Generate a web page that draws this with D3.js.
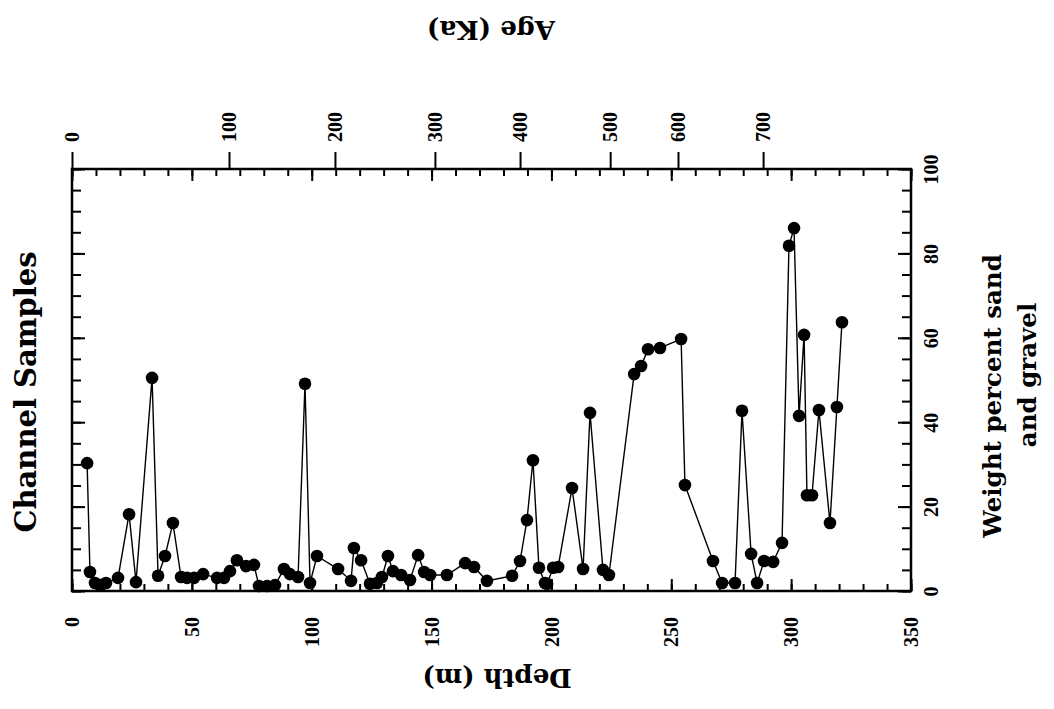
<!DOCTYPE html>
<html><head><meta charset="utf-8">
<script src="https://cdn.jsdelivr.net/npm/d3@7"></script>
<style>body{margin:0;background:#fff} svg{display:block}</style>
</head><body><svg id="chart" width="1054" height="709"></svg>
<script>
// Channel samples: depth (m) and weight percent sand and gravel
const depth = [6.3,7.5,9.6,12.1,14.2,19.2,23.8,26.7,33.4,35.9,38.8,42.1,45.5,48.0,50.9,54.7,60.5,63.4,65.9,68.8,
  72.6,75.9,78.0,81.4,84.7,88.4,90.9,94.3,97.2,99.3,102.2,111.0,116.4,117.6,120.6,124.3,127.2,129.3,131.8,133.9,
  137.3,141.0,144.4,146.9,149.4,156.4,164.0,167.7,173.1,183.6,186.9,189.8,192.3,194.8,197.3,198.2,200.7,202.8,
  208.6,213.2,216.1,221.5,224.0,234.5,237.4,240.3,245.3,254.1,255.7,267.4,271.2,276.6,279.5,283.3,285.8,288.7,
  292.5,296.2,299.1,301.2,303.3,305.4,306.6,308.7,311.6,316.2,319.1,321.2];
const sandGravel = [30.3,4.5,1.9,1.4,1.9,3.1,18.2,2.1,50.5,3.6,8.3,16.1,3.3,3.1,3.1,4.0,3.1,3.1,4.7,7.3,
  5.9,6.2,1.2,1.2,1.4,5.2,4.0,3.3,49.1,1.9,8.3,5.2,2.4,10.2,7.3,1.7,1.9,3.3,8.3,4.7,
  3.8,2.6,8.5,4.5,3.8,3.8,6.6,5.7,2.4,3.6,7.1,16.8,31.0,5.5,1.9,1.7,5.5,5.7,
  24.4,5.2,42.2,5.0,3.8,51.4,53.3,57.3,57.6,59.7,25.1,7.1,1.9,1.9,42.7,8.8,1.9,7.1,
  6.9,11.4,81.8,86.0,41.5,60.7,22.7,22.7,42.9,16.1,43.6,63.7];

// Axis ticks
const depthMajor = [0,50,100,150,200,250,300,350];
const depthMinor = d3.range(0, 351, 10);
const pctMajor = [0,20,40,60,80,100];
const pctMinor = d3.range(0, 101, 5);
// Age (Ka) tick marks and the depth (m) at which each falls
const ageTicks = [0,100,200,300,400,500,600,700];
const ageTickDepth = [0,65.5,109.7,151.4,186.9,224.5,252.8,288.3];

const svg = d3.select('#chart');
const box = {left:72, right:911, top:169, bottom:591};
const tickFont = 'Liberation Serif, Times New Roman, serif';
const titleFont = 'DejaVu Serif, serif';

const x = d3.scaleLinear().domain([0,350]).range([box.left, box.right]);
const y = d3.scaleLinear().domain([0,100]).range([box.bottom, box.top]);
const ageX = d3.scaleLinear().domain(ageTicks).range(ageTickDepth.map(x));

svg.append('rect').attr('width',1054).attr('height',709).attr('fill','#fff');

function styleAxis(g){
  g.select('.domain').remove();
  g.selectAll('.tick line').attr('stroke','#000').attr('stroke-width',2);
  g.selectAll('text').attr('font-family',tickFont).attr('font-weight','bold')
    .attr('font-size',20).attr('fill','#000');
}

// Bottom: depth
svg.append('g').attr('transform',`translate(0,${box.bottom})`)
  .call(d3.axisBottom(x).tickValues(depthMinor).tickSize(-7).tickFormat(''))
  .call(styleAxis);
svg.append('g').attr('transform',`translate(0,${box.bottom})`)
  .call(d3.axisBottom(x).tickValues(depthMajor).tickSize(-12).tickFormat(d3.format('d')))
  .call(styleAxis)
  .call(g => g.selectAll('text')
    .attr('x',0).attr('y',0).attr('dy','0.33em')
    .attr('text-anchor','end')
    .attr('transform','translate(0,26) rotate(-90)'));

// Top: depth ticks pointing in
svg.append('g').attr('transform',`translate(0,${box.top})`)
  .call(d3.axisTop(x).tickValues(depthMinor).tickSize(-7).tickFormat(''))
  .call(styleAxis);
svg.append('g').attr('transform',`translate(0,${box.top})`)
  .call(d3.axisTop(x).tickValues(depthMajor).tickSize(-12).tickFormat(''))
  .call(styleAxis);

// Top: age (Ka)
svg.append('g').attr('transform',`translate(0,${box.top})`)
  .call(d3.axisTop(ageX).tickValues(ageTicks).tickSize(17).tickFormat(d3.format('d')))
  .call(styleAxis)
  .call(g => g.selectAll('text')
    .attr('x',0).attr('y',0).attr('dy','0.33em')
    .attr('text-anchor','start')
    .attr('transform','translate(0,-27) rotate(-90)'));

// Left: percent ticks, no labels
svg.append('g').attr('transform',`translate(${box.left},0)`)
  .call(d3.axisLeft(y).tickValues(pctMinor).tickSize(-9).tickFormat(''))
  .call(styleAxis);
svg.append('g').attr('transform',`translate(${box.left},0)`)
  .call(d3.axisLeft(y).tickValues(pctMajor).tickSize(-13).tickFormat(''))
  .call(styleAxis);

// Right: weight percent
svg.append('g').attr('transform',`translate(${box.right},0)`)
  .call(d3.axisRight(y).tickValues(pctMinor).tickSize(-9).tickFormat(''))
  .call(styleAxis);
svg.append('g').attr('transform',`translate(${box.right},0)`)
  .call(d3.axisRight(y).tickValues(pctMajor).tickSize(-13).tickFormat(d3.format('d')))
  .call(styleAxis)
  .call(g => g.selectAll('text')
    .attr('x',0).attr('y',0).attr('dy','0.33em')
    .attr('text-anchor','middle')
    .attr('transform','translate(20,0) rotate(-90)'));

// Frame
svg.append('rect')
  .attr('x',box.left).attr('y',box.top)
  .attr('width',box.right-box.left).attr('height',box.bottom-box.top)
  .attr('fill','none').attr('stroke','#000').attr('stroke-width',2.5);

// Series
const pts = depth.map((d,i) => [d, sandGravel[i]]);
svg.append('path').datum(pts)
  .attr('fill','none').attr('stroke','#000').attr('stroke-width',1.4)
  .attr('d', d3.line().x(d => x(d[0])).y(d => y(d[1])));
svg.append('g').selectAll('circle').data(pts).join('circle')
  .attr('cx', d => x(d[0])).attr('cy', d => y(d[1])).attr('r',6.3).attr('fill','#000');

// Titles
function title(txt, tx, ty, rot, size){
  svg.append('text').text(txt)
    .attr('font-family',titleFont).attr('font-weight','bold').attr('font-size',size)
    .attr('text-anchor','middle').attr('dy','0.3em').attr('fill','#000')
    .attr('transform',`translate(${tx},${ty}) rotate(${rot})`);
}
title('Age (Ka)', 491, 29, 180, 26);
title('Depth (m)', 497, 677, 180, 26);
title('Channel Samples', 27, 392, -90, 29);
title('Weight percent sand', 994, 396, -90, 24.5);
title('and gravel', 1029, 375, -90, 24.5);
</script>
</body></html>
